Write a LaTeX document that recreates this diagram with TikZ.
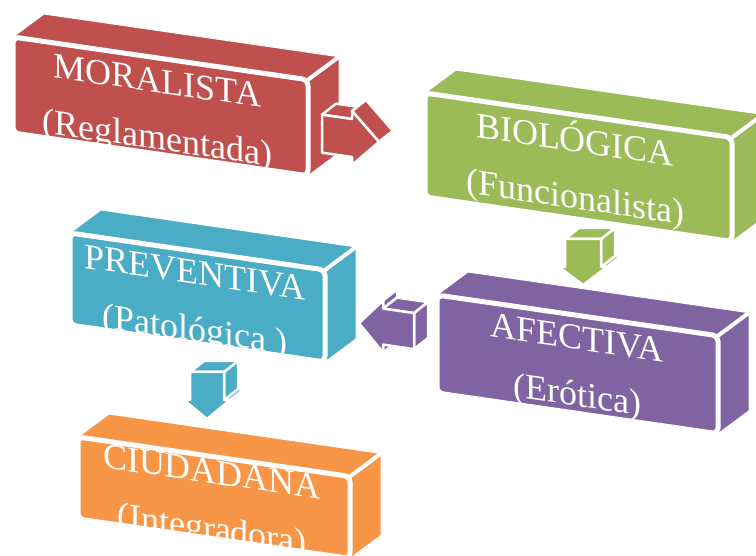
\documentclass[tikz,border=0pt]{standalone}
\usepackage{fontspec}
\setmainfont{Liberation Serif}
\usetikzlibrary{calc}
\definecolor{cred}{HTML}{C0504D}
\definecolor{cgreen}{HTML}{9BBB59}
\definecolor{ccyan}{HTML}{4BACC6}
\definecolor{cpurple}{HTML}{8064A2}
\definecolor{corange}{HTML}{F79646}
\tikzset{
  sideface/.style={fill=#1, draw=white, line width=1pt, line join=round},
  frontface/.style={fill=#1, draw=white, line width=5pt, rounded corners=6pt},
  edgeline/.style={draw=white, line width=4pt},
  arrface/.style={fill=#1, draw=white, line width=2.5pt, line join=round},
  boxtext/.style={text=white, font=\fontsize{36}{57}\selectfont, align=center,
    inner sep=0pt, anchor=base, transform shape},
}
% #1 name, #2 colour, #3 x0, #4 y0, #5 width, #6 height, #7 text x, #8 first baseline, #9 text
\newcommand\cubebox[9]{%
  \begin{scope}[shift={(#3,#4)}, yslant=-0.145]
    \path[sideface=#2] (0,0) -- (#5,0) -- ({#5+31},-27.5) -- (31,-27.5) -- cycle;
    \path[sideface=#2] (#5,0) -- (#5,#6) -- ({#5+31},{#6-27.5}) -- ({#5+31},-27.5) -- cycle;
    \path[edgeline] (#5,0) -- ({#5+31},-27.5);
    \path[frontface=#2] (0,0) rectangle (#5,#6);
    \node[boxtext] (#1) at (#7,{#8+57}) {#9};
  \end{scope}}
% quad swept by edge (#2)-(#3) along depth vector dA
\newcommand\aquad[3]{\path[arrface=#1] (#2) -- (#3) -- ($(#3)+(dA)$) -- ($(#2)+(dA)$) -- cycle;}
\newcommand\afront[2]{\path[arrface=#1] (#2-1) -- (#2-2) -- (#2-3) -- (#2-4) -- (#2-5) -- (#2-6) -- (#2-7) -- cycle;}
\begin{document}
\begin{tikzpicture}[x=1pt,y=-1pt]
\useasboundingbox (0,0) rectangle (756,556);
\clip (0,0) rectangle (756,556);
\coordinate (dA) at (14,-11);

\cubebox{moral}{cred}{13}{37}{295}{96}{144.5}{34.5}{MORALISTA\\(Reglamentada)}
\cubebox{bio}{cgreen}{425}{93}{307}{104}{150}{37}{BIOLÓGICA\\(Funcionalista)}
\cubebox{prev}{ccyan}{70}{233}{255}{92}{125}{33}{PREVENTIVA\\(Patológica )}
\cubebox{afec}{cpurple}{437}{295}{281}{98}{140}{34}{AFECTIVA\\(Erótica)}
\cubebox{ciud}{corange}{78}{437}{272}{82}{134}{27}{CIUDADANA\\(Integradora)}

% arrow moral -> bio (right)
\begin{scope}[shift={(352,138)}, yslant=-0.145]
  \coordinate (r-1) at (-30,-19); \coordinate (r-2) at (0,-19);
  \coordinate (r-3) at (0,-27);   \coordinate (r-4) at (27,0);
  \coordinate (r-5) at (0,27);    \coordinate (r-6) at (0,19);
  \coordinate (r-7) at (-30,19);
\end{scope}
\aquad{cred}{r-1}{r-2}
\aquad{cred}{r-3}{r-4}
\aquad{cred}{r-4}{r-5}
\afront{cred}{r}

% arrow bio -> afec (down)
\begin{scope}[shift={(583,267)}]
  \coordinate (d-1) at (-18,-28); \coordinate (d-2) at (-18,0);
  \coordinate (d-3) at (-24,0);   \coordinate (d-4) at (0,18);
  \coordinate (d-5) at (24,0);    \coordinate (d-6) at (18,0);
  \coordinate (d-7) at (18,-28);
\end{scope}
\aquad{cgreen}{d-2}{d-3}
\aquad{cgreen}{d-5}{d-6}
\aquad{cgreen}{d-6}{d-7}
\aquad{cgreen}{d-7}{d-1}
\afront{cgreen}{d}

% arrow afec -> prev (left)
\begin{scope}[shift={(383,326.6)}, yslant=-0.145]
  \coordinate (l-1) at (31,-18);  \coordinate (l-2) at (0,-18);
  \coordinate (l-3) at (0,-26);   \coordinate (l-4) at (-24,0);
  \coordinate (l-5) at (0,26);    \coordinate (l-6) at (0,18);
  \coordinate (l-7) at (31,18);
\end{scope}
\aquad{cpurple}{l-2}{l-3}
\aquad{cpurple}{l-5}{l-6}
\aquad{cpurple}{l-1}{l-2}
\aquad{cpurple}{l-7}{l-1}
\afront{cpurple}{l}

% arrow prev -> ciud (down)
\begin{scope}[shift={(207,400)}]
  \coordinate (e-1) at (-17,-28); \coordinate (e-2) at (-17,0);
  \coordinate (e-3) at (-23,0);   \coordinate (e-4) at (0,19);
  \coordinate (e-5) at (23,0);    \coordinate (e-6) at (17,0);
  \coordinate (e-7) at (17,-28);
\end{scope}
\aquad{ccyan}{e-2}{e-3}
\aquad{ccyan}{e-5}{e-6}
\aquad{ccyan}{e-6}{e-7}
\aquad{ccyan}{e-7}{e-1}
\afront{ccyan}{e}
\end{tikzpicture}
\end{document}
